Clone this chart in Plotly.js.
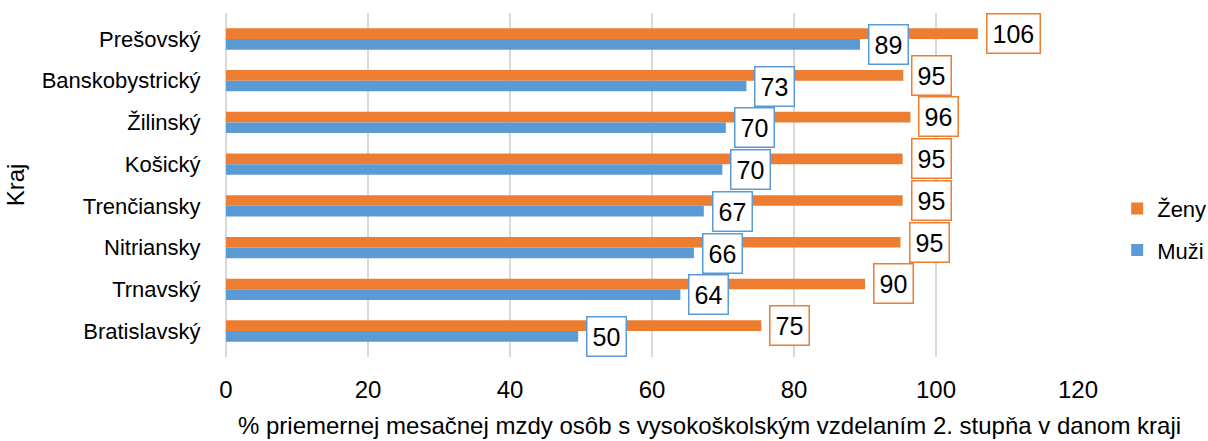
<!DOCTYPE html>
<html>
<head>
<meta charset="utf-8">
<script src="https://cdn.plot.ly/plotly-3.0.1.min.js"></script>
<style>html,body{margin:0;padding:0;background:#fff;}#chart{width:1208px;height:441px;}</style>
</head>
<body>
<div id="chart"></div>
<script>
const categories = ["Prešovský","Banskobystrický","Žilinský","Košický","Trenčiansky","Nitriansky","Trnavský","Bratislavský"];
const zenyValues = [105.9, 95.4, 96.4, 95.3, 95.3, 95.0, 90.0, 75.4];
const muziValues = [89.3, 73.3, 70.4, 69.9, 67.3, 65.9, 64.0, 49.6];
const xTicks = [0, 20, 40, 60, 80, 100, 120];
const seriesNames = ["Ženy", "Muži"];
const colors = ["#ED7D31", "#5B9BD5"];
const xTitle = '% priemernej mesačnej mzdy osôb s vysokoškolským vzdelaním 2. stupňa v danom kraji';
const yTitle = 'Kraj';

const FONT = '"Liberation Sans", Arial, sans-serif';

const traces = [
  {type:'bar', orientation:'h', name:seriesNames[0], y:categories, x:zenyValues,
   marker:{color:colors[0]}, legendgroup:'z', hoverinfo:'x'},
  {type:'bar', orientation:'h', name:seriesNames[1], y:categories, x:muziValues,
   marker:{color:colors[1]}, legendgroup:'m', hoverinfo:'x'}
];

const annotations = [];
[zenyValues, muziValues].forEach((vals, si) => {
  vals.forEach((v, i) => {
    annotations.push({
      x: v, y: categories[i], xref:'x', yref:'y',
      text: String(Math.round(v)), showarrow:false,
      xanchor:'left', yanchor:'middle', xshift: 8, yshift: si === 0 ? 5.5 : -5.5,
      bgcolor:'#ffffff', bordercolor: colors[si], borderwidth:1.5, borderpad:5,
      font:{family:FONT, size:25, color:'#000'}
    });
  });
});
// x-axis title (placed as in the reference, slightly right of plot centre)
annotations.push({
  text: xTitle, xref:'paper', yref:'paper', x:0.568, y:-0.198,
  xanchor:'center', yanchor:'middle', showarrow:false,
  font:{family:FONT, size:24, color:'#000'}
});

const layout = {
  width:1208, height:441,
  margin:{l:226, r:130, t:13, b:84, autoexpand:false},
  paper_bgcolor:'#fff', plot_bgcolor:'#fff',
  barmode:'group', bargap:0.49, bargroupgap:0,
  font:{family:FONT, size:24, color:'#000'},
  xaxis:{range:[0,120], tickvals:xTicks, showgrid:true, gridcolor:'#D9D9D9', gridwidth:1.5,
         zeroline:true, zerolinecolor:'#D9D9D9', zerolinewidth:1.5, showline:false,
         ticks:'outside', ticklen:11, tickcolor:'rgba(0,0,0,0)',
         tickfont:{family:FONT, size:24}},
  yaxis:{type:'category', autorange:'reversed', showgrid:false, zeroline:false, showline:false,
         ticks:'outside', ticklen:20, tickcolor:'rgba(0,0,0,0)',
         tickfont:{family:FONT, size:22},
         title:{text:yTitle, font:{family:FONT, size:24}, standoff:10}},
  legend:{x:1.046, xanchor:'left', y:0.37, yanchor:'middle', font:{family:FONT, size:22},
          tracegroupgap:10, bgcolor:'rgba(0,0,0,0)'},
  annotations: annotations,
  showlegend:true
};

Plotly.newPlot('chart', traces, layout, {displayModeBar:false, staticPlot:true});
</script>
</body>
</html>
